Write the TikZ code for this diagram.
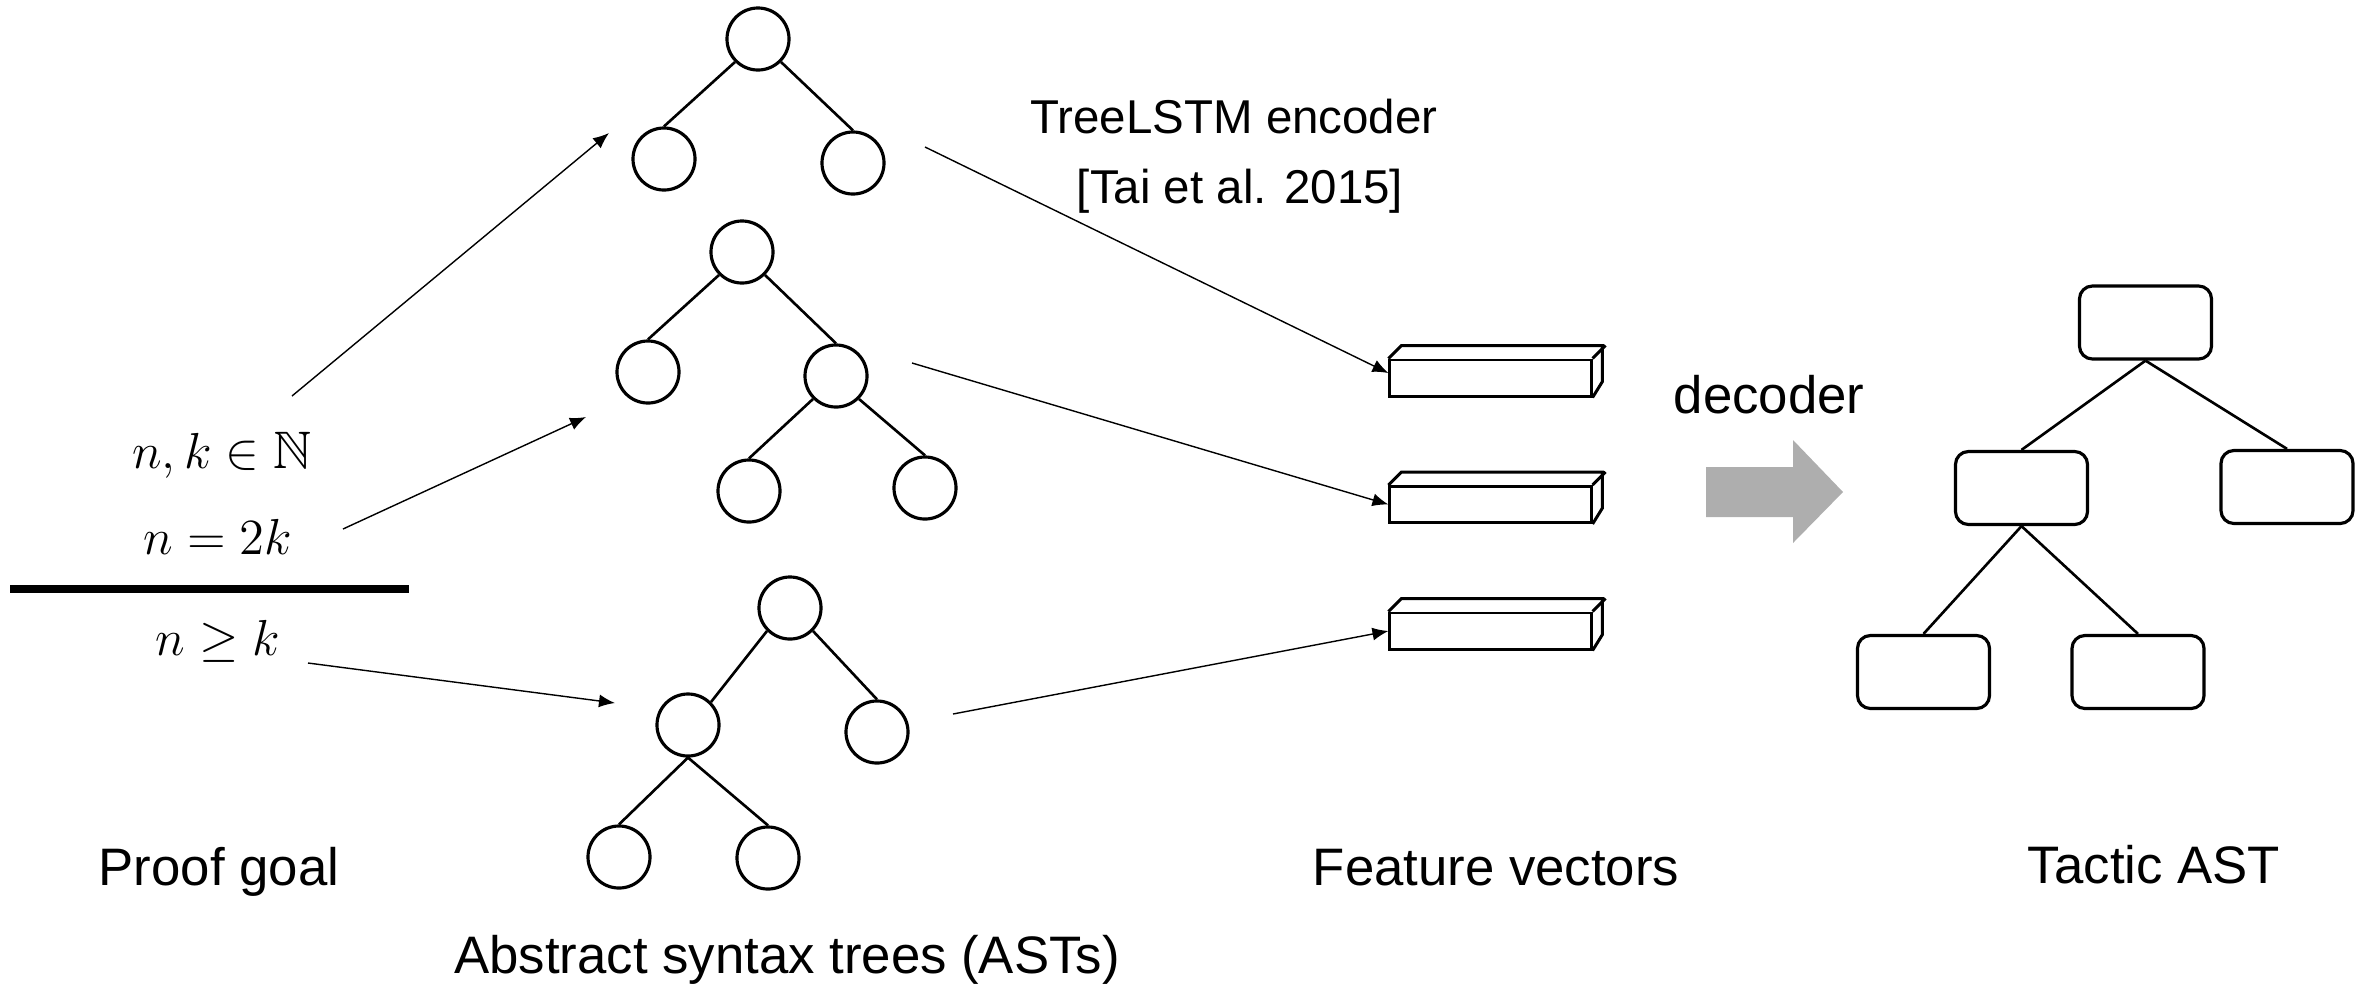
\documentclass[tikz,border=0pt]{standalone}
\usepackage{amsmath,amssymb}
\usepackage[no-math]{fontspec}
\setmainfont{Liberation Sans}
\usepackage{xcolor}
\usepackage{tikz}
\usetikzlibrary{arrows.meta}
\definecolor{decgray}{RGB}{174,174,174}
\tikzset{
  leaf/.style ={draw, circle, line width=0.9pt, minimum size=6.2mm, inner sep=0pt},
  tbox/.style ={draw, rounded corners=1.3mm, line width=0.9pt, minimum width=13.2mm,
                minimum height=7.3mm, inner sep=0pt},
  vec/.style  ={draw, line width=0.85pt, minimum width=20.1mm, minimum height=3.6mm, inner sep=0pt},
  vln/.style  ={line width=0.85pt},
  tln/.style  ={line width=0.75pt},
  ar/.style   ={-{Latex[length=1.6mm,width=1.3mm]}, line width=0.4pt},
  lbl/.style  ={font=\fontsize{15}{18}\selectfont, inner sep=0pt, anchor=base},
  slbl/.style ={font=\fontsize{13.5}{16}\selectfont, inner sep=0pt, anchor=base},
  mth/.style  ={font=\fontsize{15}{18}\selectfont, inner sep=0pt, anchor=base},
}

\begin{document}
\begin{tikzpicture}[x=0.01cm,y=-0.01cm]
\useasboundingbox (0,0) rectangle (2369,987);

% proof goal
\node[mth] (hyp1) at (222,468) {$n, k \in \mathbb{N}$};
\node[mth] (hyp2) at (218,554) {$n = 2k$};
\node[fill, minimum width=3.99cm, minimum height=0.8mm, inner sep=0pt] (bar) at (209.5,589) {};
\node[mth] (concl) at (218,655) {$n \geq k$};
\node[lbl] (goal) at (219,885) {Proof goal};

% ASTs
\node[leaf] (r1) at (758,39) {};
\node[leaf] (r1l) at (664,159) {};
\node[leaf] (r1r) at (853,163) {};
\draw[tln] (r1.south west)--(r1l.north); \draw[tln] (r1.south east)--(r1r.north);

\node[leaf] (r2) at (742,252) {};
\node[leaf] (r2l) at (648,372) {};
\node[leaf] (r2r) at (836,376) {};
\node[leaf] (r2rl) at (749,491) {};
\node[leaf] (r2rr) at (925,488) {};
\draw[tln] (r2.south west)--(r2l.north); \draw[tln] (r2.south east)--(r2r.north);
\draw[tln] (r2r.south west)--(r2rl.north); \draw[tln] (r2r.south east)--(r2rr.north);

\node[leaf] (r3) at (790,608) {};
\node[leaf] (r3l) at (688,725) {};
\node[leaf] (r3r) at (877,732) {};
\node[leaf] (r3ll) at (619,857) {};
\node[leaf] (r3lr) at (768,858) {};
\draw[tln] (r3.south west)--(r3l.north east); \draw[tln] (r3.south east)--(r3r.north);
\draw[tln] (r3l.south)--(r3ll.north); \draw[tln] (r3l.south)--(r3lr.north);

\node[lbl] (asts) at (787,973) {Abstract syntax trees (ASTs)};

% feature vectors
\node[vec] (v1) at (1490.5,378) {};
\node[vec] (v2) at (1490.5,504.5) {};
\node[vec] (v3) at (1490.5,631) {};
\draw[vln] (v1.north west) -- ++(13,-13) -- ++(201,0) -- ++(0,36) -- (v1.south east); \draw[vln] (v1.north east) -- ++(13,-13);
\draw[vln] (v2.north west) -- ++(13,-13) -- ++(201,0) -- ++(0,36) -- (v2.south east); \draw[vln] (v2.north east) -- ++(13,-13);
\draw[vln] (v3.north west) -- ++(13,-13) -- ++(201,0) -- ++(0,36) -- (v3.south east); \draw[vln] (v3.north east) -- ++(13,-13);
\node[lbl] (feat) at (1496,885) {Feature vectors};

\node[slbl] (enc) at (1234,133) {TreeLSTM encoder};
\node[slbl] (cite) at (1240,203) {[Tai et al. 2015]};

% arrows
\coordinate (a1s) at (292,396); \coordinate (a1e) at (609,133);
\coordinate (a2s) at (343,529); \coordinate (a2e) at (586,417);
\coordinate (a3s) at (308,663); \coordinate (a3e) at (615,703);
\draw[ar] (a1s)--(a1e); \draw[ar] (a2s)--(a2e); \draw[ar] (a3s)--(a3e);
\coordinate (b1s) at (925,147); \coordinate (b2s) at (912,363); \coordinate (b3s) at (953,714);
\draw[ar] (b1s)--([yshift=1.4pt]v1.west); \draw[ar] (b2s)--(v2.west); \draw[ar] (b3s)--(v3.west);

% decoder
\node[lbl] (declbl) at (1769,413) {decoder};
\coordinate (dec) at (1706,492);
\fill[decgray] (dec) ++(0,-25) -- ++(87,0) -- ++(0,-27) -- ++(50,52) -- ++(-50,51) -- ++(0,-26) -- ++(-87,0) -- cycle;

% tactic AST
\node[tbox] (t0) at (2145.5,322.5) {};
\node[tbox] (t1) at (2021.5,488) {};
\node[tbox] (t2) at (2287,487) {};
\node[tbox] (t3) at (1923.5,672) {};
\node[tbox] (t4) at (2138,672) {};
\draw[tln] (t0.south)--(t1.north); \draw[tln] (t0.south)--(t2.north);
\draw[tln] (t1.south)--(t3.north); \draw[tln] (t1.south)--(t4.north);
\node[lbl] (tac) at (2154,883) {Tactic AST};
\end{tikzpicture}
\end{document}
